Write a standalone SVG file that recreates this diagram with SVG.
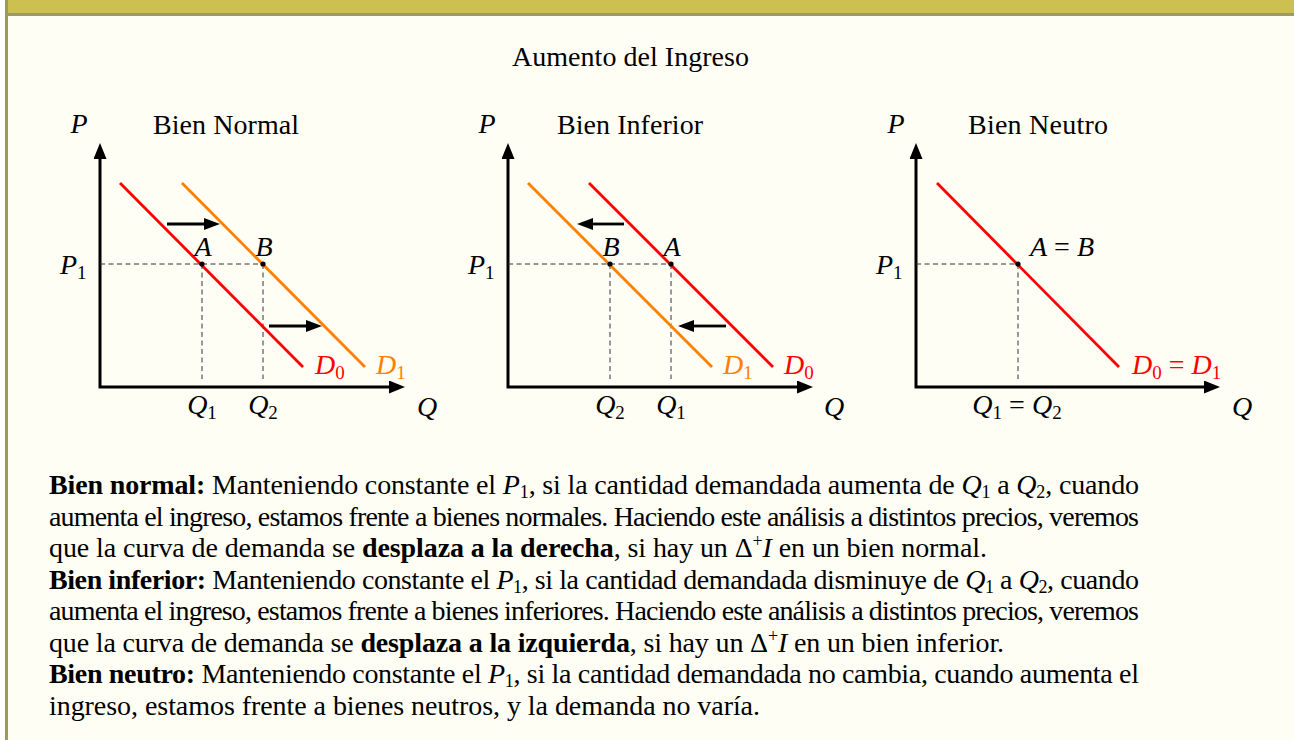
<svg xmlns="http://www.w3.org/2000/svg" width="1294" height="740" viewBox="0 0 1294 740">
<defs>
<style>
text{font-family:"Liberation Serif","Times New Roman",serif;font-size:28px;fill:#000}
.b{font-weight:bold}
.i{font-style:italic}
.sub{font-size:19px}
.bs{font-size:18px}
.red{fill:#FF0000}
.org{fill:#FF8000}
.axis{fill:none;stroke:#000;stroke-width:3;stroke-linejoin:miter;marker-start:url(#ax);marker-end:url(#ax)}
.d0{stroke:#FF0000;stroke-width:2.8;fill:none}
.d1{stroke:#FF8000;stroke-width:2.8;fill:none}
.dash{stroke:#333;stroke-width:1;stroke-dasharray:5 3.5;fill:none}
.shift{stroke:#000;stroke-width:2.8;fill:none;marker-end:url(#sh)}
</style>
<marker id="ax" viewBox="0 0 16 13" refX="0" refY="6.5" markerWidth="16" markerHeight="13" markerUnits="userSpaceOnUse" orient="auto-start-reverse"><path d="M0,0 L16,6.5 L0,13 Z" fill="#000"/></marker>
<marker id="sh" viewBox="0 0 16 12" refX="0" refY="6" markerWidth="16" markerHeight="12" markerUnits="userSpaceOnUse" orient="auto"><path d="M0,0 L16,6 L0,12 Z" fill="#000"/></marker>
</defs>
<rect x="0" y="0" width="1294" height="740" fill="#FFFFFF"/>
<rect x="5" y="0" width="1289" height="740" fill="#FEFEF5"/>
<rect x="5" y="0" width="1289" height="13" fill="#CCC050"/>
<rect x="5" y="13" width="1289" height="3" fill="#9E9A60"/>
<rect x="5" y="0" width="3" height="740" fill="#9E9A60"/>

<text id="title" x="512" y="66" textLength="237" lengthAdjust="spacing">Aumento del Ingreso</text>

<g id="graph-normal">
  <text class="i" x="79" y="133" text-anchor="middle">P</text>
  <text x="153" y="134" textLength="146" lengthAdjust="spacing">Bien Normal</text>
  <path class="axis" d="M100,159 L100,387 L389,387"/>
  <line class="dash" x1="100" y1="264" x2="263" y2="264"/>
  <line class="dash" x1="202" y1="264" x2="202" y2="379"/>
  <line class="dash" x1="263" y1="264" x2="263" y2="379"/>
  <line class="d0" x1="120" y1="183" x2="303" y2="367"/>
  <line class="d1" x1="182" y1="183" x2="365" y2="367"/>
  <circle cx="202" cy="264" r="2.6"/>
  <circle cx="263" cy="264" r="2.6"/>
  <text class="i" x="203" y="256" text-anchor="middle">A</text>
  <text class="i" x="264" y="256" text-anchor="middle">B</text>
  <text x="60" y="274"><tspan class="i">P</tspan><tspan class="sub" dy="5">1</tspan></text>
  <text class="red" x="315" y="374"><tspan class="i">D</tspan><tspan class="sub" dy="5">0</tspan></text>
  <text class="org" x="376" y="374"><tspan class="i">D</tspan><tspan class="sub" dy="5">1</tspan></text>
  <text x="202" y="414" text-anchor="middle"><tspan class="i">Q</tspan><tspan class="sub" dy="5">1</tspan></text>
  <text x="263" y="414" text-anchor="middle"><tspan class="i">Q</tspan><tspan class="sub" dy="5">2</tspan></text>
  <text class="i" x="427" y="416" text-anchor="middle">Q</text>
</g>

<g id="graph-inferior">
  <text class="i" x="487" y="133" text-anchor="middle">P</text>
  <text x="557" y="134" textLength="146" lengthAdjust="spacing">Bien Inferior</text>
  <path class="axis" d="M508,159 L508,387 L797,387"/>
  <line class="dash" x1="508" y1="264" x2="671" y2="264"/>
  <line class="dash" x1="610" y1="264" x2="610" y2="379"/>
  <line class="dash" x1="671" y1="264" x2="671" y2="379"/>
  <line class="d1" x1="528" y1="183" x2="712" y2="367"/>
  <line class="d0" x1="589" y1="183" x2="773" y2="367"/>
  <circle cx="610" cy="264" r="2.6"/>
  <circle cx="671" cy="264" r="2.6"/>
  <text class="i" x="611" y="256" text-anchor="middle">B</text>
  <text class="i" x="672" y="256" text-anchor="middle">A</text>
  <text x="468" y="274"><tspan class="i">P</tspan><tspan class="sub" dy="5">1</tspan></text>
  <text class="org" x="723" y="374"><tspan class="i">D</tspan><tspan class="sub" dy="5">1</tspan></text>
  <text class="red" x="784" y="374"><tspan class="i">D</tspan><tspan class="sub" dy="5">0</tspan></text>
  <text x="610" y="414" text-anchor="middle"><tspan class="i">Q</tspan><tspan class="sub" dy="5">2</tspan></text>
  <text x="671" y="414" text-anchor="middle"><tspan class="i">Q</tspan><tspan class="sub" dy="5">1</tspan></text>
  <text class="i" x="834" y="416" text-anchor="middle">Q</text>
</g>

<g id="graph-neutro">
  <text class="i" x="896" y="133" text-anchor="middle">P</text>
  <text x="968" y="134" textLength="140" lengthAdjust="spacing">Bien Neutro</text>
  <path class="axis" d="M916,159 L916,387 L1204,387"/>
  <line class="dash" x1="916" y1="264" x2="1018" y2="264"/>
  <line class="dash" x1="1018" y1="264" x2="1018" y2="379"/>
  <line class="d0" x1="937" y1="183" x2="1119" y2="367"/>
  <circle cx="1018" cy="264" r="2.6"/>
  <text x="1030" y="256"><tspan class="i">A</tspan> = <tspan class="i">B</tspan></text>
  <text x="876" y="274"><tspan class="i">P</tspan><tspan class="sub" dy="5">1</tspan></text>
  <text class="red" x="1132" y="374"><tspan class="i">D</tspan><tspan class="sub" dy="5">0</tspan><tspan dy="-5"> = </tspan><tspan class="i">D</tspan><tspan class="sub" dy="5">1</tspan></text>
  <text x="1017" y="414" text-anchor="middle"><tspan class="i">Q</tspan><tspan class="sub" dy="5">1</tspan><tspan dy="-5"> = </tspan><tspan class="i">Q</tspan><tspan class="sub" dy="5">2</tspan></text>
  <text class="i" x="1242" y="416" text-anchor="middle">Q</text>
</g>

<g id="connectors">
  <line class="shift" x1="167" y1="224" x2="204" y2="224"/>
  <line class="shift" x1="269" y1="326" x2="306" y2="326"/>
  <line class="shift" x1="624" y1="224" x2="593" y2="224"/>
  <line class="shift" x1="726" y1="326" x2="694" y2="326"/>
</g>

<g id="body">
  <text x="49" y="494" textLength="1090" lengthAdjust="spacing"><tspan class="b">Bien normal:</tspan> Manteniendo constante el <tspan class="i">P</tspan><tspan class="bs" dy="4">1</tspan><tspan dy="-4">, si la cantidad demandada aumenta de </tspan><tspan class="i">Q</tspan><tspan class="bs" dy="4">1</tspan><tspan dy="-4"> a </tspan><tspan class="i">Q</tspan><tspan class="bs" dy="4">2</tspan><tspan dy="-4">, cuando</tspan></text>
  <text x="49" y="526" textLength="1090" lengthAdjust="spacing">aumenta el ingreso, estamos frente a bienes normales. Haciendo este análisis a distintos precios, veremos</text>
  <text x="49" y="557" textLength="938" lengthAdjust="spacing">que la curva de demanda se <tspan class="b">desplaza a la derecha</tspan>, si hay un Δ<tspan class="bs" dy="-10">+</tspan><tspan class="i" dy="10">I</tspan> en un bien normal.</text>
  <text x="49" y="589" textLength="1090" lengthAdjust="spacing"><tspan class="b">Bien inferior:</tspan> Manteniendo constante el <tspan class="i">P</tspan><tspan class="bs" dy="4">1</tspan><tspan dy="-4">, si la cantidad demandada disminuye de </tspan><tspan class="i">Q</tspan><tspan class="bs" dy="4">1</tspan><tspan dy="-4"> a </tspan><tspan class="i">Q</tspan><tspan class="bs" dy="4">2</tspan><tspan dy="-4">, cuando</tspan></text>
  <text x="49" y="620" textLength="1090" lengthAdjust="spacing">aumenta el ingreso, estamos frente a bienes inferiores. Haciendo este análisis a distintos precios, veremos</text>
  <text x="49" y="652" textLength="955" lengthAdjust="spacing">que la curva de demanda se <tspan class="b">desplaza a la izquierda</tspan>, si hay un Δ<tspan class="bs" dy="-10">+</tspan><tspan class="i" dy="10">I</tspan> en un bien inferior.</text>
  <text x="49" y="683" textLength="1090" lengthAdjust="spacing"><tspan class="b">Bien neutro:</tspan> Manteniendo constante el <tspan class="i">P</tspan><tspan class="bs" dy="4">1</tspan><tspan dy="-4">, si la cantidad demandada no cambia, cuando aumenta el</tspan></text>
  <text x="49" y="715" textLength="711" lengthAdjust="spacing">ingreso, estamos frente a bienes neutros, y la demanda no varía.</text>
</g>
</svg>
